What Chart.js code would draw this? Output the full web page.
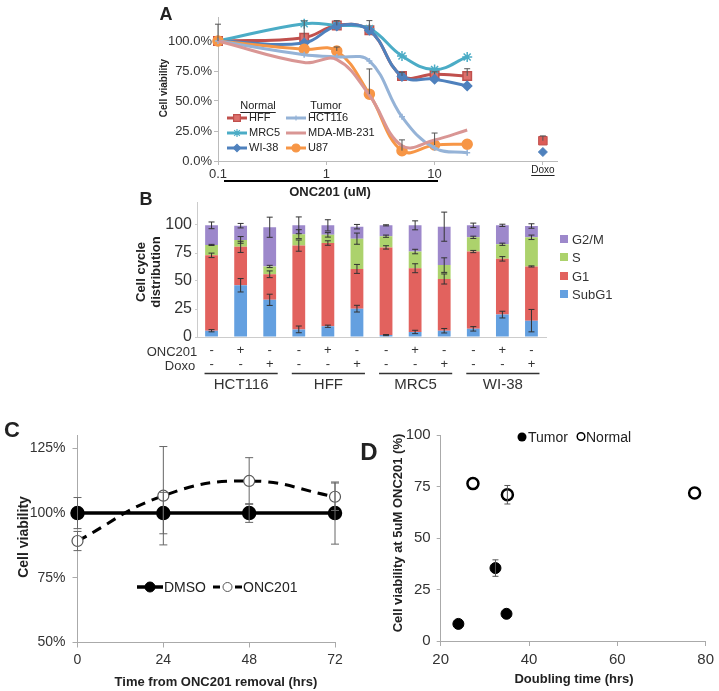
<!DOCTYPE html>
<html>
<head>
<meta charset="utf-8">
<script src="https://cdn.jsdelivr.net/npm/chart.js@4.4.0/dist/chart.umd.min.js"></script>
<style>
  body { margin: 0; background: #fff; }
  #page { position: relative; width: 719px; height: 691px; overflow: hidden;
          font-family: 'Liberation Sans', Arial, sans-serif; color: #222; }
  canvas { position: absolute; }
  .t { position: absolute; white-space: nowrap; transform: translate(-50%, -50%); }
  .r { transform: translate(-50%, -50%) rotate(-90deg); text-align: center; }
  .b { font-weight: bold; }
  .sw { position: absolute; width: 8px; height: 8px; }
</style>
</head>
<body>
<div id="page">
  <canvas id="chartA" width="430" height="200" style="left:140px;top:0px"></canvas>
  <canvas id="chartB" width="420" height="210" style="left:140px;top:190px"></canvas>
  <canvas id="chartC" width="360" height="271" style="left:0px;top:420px"></canvas>
  <canvas id="chartD" width="359" height="271" style="left:360px;top:420px"></canvas>

  <!-- panel A text -->
  <div class="t b" style="left:166px;top:14px;font-size:18px">A</div>
  <div class="t r b" style="left:163px;top:88px;font-size:10px">Cell viability</div>
  <div style="position:absolute;left:224px;top:180px;width:214px;height:2px;background:#000"></div>
  <div class="t b" style="left:330px;top:191px;font-size:13px">ONC201 (uM)</div>

  <!-- panel B text -->
  <div class="t b" style="left:146px;top:199px;font-size:18px">B</div>
  <div class="t r b" style="left:148px;top:272px;font-size:13px;line-height:15px">Cell cycle<br>distribution</div>
  <div class="t" style="left:172px;top:351px;font-size:13px;color:#333">ONC201</div>
  <div class="t" style="left:180px;top:365px;font-size:13px;color:#333">Doxo</div>
  <div class="sw" style="left:560px;top:235px;background:#9d88cb"></div>
  <div class="t" style="left:572px;top:239px;font-size:13px;color:#333;transform:translate(0,-50%)">G2/M</div>
  <div class="sw" style="left:560px;top:253px;background:#acd26c"></div>
  <div class="t" style="left:572px;top:257px;font-size:13px;color:#333;transform:translate(0,-50%)">S</div>
  <div class="sw" style="left:560px;top:272px;background:#e2625e"></div>
  <div class="t" style="left:572px;top:276px;font-size:13px;color:#333;transform:translate(0,-50%)">G1</div>
  <div class="sw" style="left:560px;top:290px;background:#64a0e0"></div>
  <div class="t" style="left:572px;top:294px;font-size:13px;color:#333;transform:translate(0,-50%)">SubG1</div>

  <!-- panel C text -->
  <div class="t b" style="left:12px;top:430px;font-size:22px">C</div>
  <div class="t r b" style="left:23px;top:537px;font-size:14px">Cell viability</div>
  <div class="t b" style="left:216px;top:681px;font-size:13px">Time from ONC201 removal (hrs)</div>

  <!-- panel D text -->
  <div class="t b" style="left:369px;top:452px;font-size:24px">D</div>
  <div class="t r b" style="left:397px;top:533px;font-size:13px">Cell viability at 5uM ONC201 (%)</div>
  <div class="t b" style="left:574px;top:678px;font-size:13px">Doubling time (hrs)</div>
</div>

<script>
// ---- panel A: viability vs ONC201 dose ----
const concA = [0.1, 0.625, 1.25, 2.5, 5, 10, 20];
const hff = [100, 102.8, 113, 109, 70.9, 72.3, 70.9];
const hffErr = [14, 14, 4, 8, 3, 2, 6];
const mrc5 = [100, 114.4, 113, 110.3, 87.5, 76.2, 86.7];
const wi38 = [100, 98.4, 112.5, 109, 70.5, 68.2, 62.6];
const hct116 = [100, 88.5, 86.7, 83.4, 36.8, 10.8, 6.9];
const mda231 = [100, 82, 84.5, 54.8, 12.7, 17.5, 25.8];
const u87 = [100, 93.1, 91.7, 55.7, 8.6, 13.3, 14];
const u87Err = [0, 0, 3.3, 21, 9, 10, 0];
const doxoConc = 100;
const hffDoxo = 16.9;
const hffDoxoErr = 4;
const wi38Doxo = 7.5;
const ticksA = [0.1, 1, 10, 100];

// ---- panel B: cell cycle distribution ----
const cellLines = ['HCT116', 'HFF', 'MRC5', 'WI-38'];
const oncRow = ['-', '+', '-', '-', '+', '-', '-', '+', '-', '-', '+', '-'];
const doxoRow = ['-', '-', '+', '-', '-', '+', '-', '-', '+', '-', '-', '+'];
const subG1 = [5.6, 46.2, 33.2, 6.8, 9.6, 25.3, 1.7, 4.5, 5.6, 7.3, 20, 14.6];
const g1 = [67.3, 34.3, 22.8, 74.8, 74.3, 35.5, 78.3, 56.9, 46.2, 69, 49.8, 48.4];
const sPhase = [9.3, 6.2, 7, 10.2, 7.3, 27, 10, 14.9, 12.4, 12.7, 13, 26];
const g2m = [17.5, 12.7, 35, 7.9, 8.5, 10.7, 9.7, 23.4, 34.3, 10.7, 16.9, 10.1];
const subG1Err = [1, 6, 5, 3, 1, 3, 0.5, 1.5, 2, 2, 3, 10];
const g1Err = [2, 5, 3, 5, 2, 4, 1.5, 4, 4.5, 1, 2, 0.5];
const sErr = [0.5, 3, 1, 4, 2, 5, 1, 2, 6.5, 1, 1, 2];
const g2mErr = [3, 2, 9, 7.5, 5, 2, 0.5, 4, 13, 2, 1, 2];

// ---- panel C: recovery after removal ----
const hoursC = [0, 24, 48, 72];
const dmso = [100, 100, 100, 100];
const dmsoErr = [6, 8, 3.6, 12];
const onc201 = [89.2, 106.7, 112.4, 106.3];
const onc201Err = [3.7, 19, 9, 5.3];

// ---- panel D: doubling time ----
const tumorDT = [24, 32.4, 34.9];
const tumorVia = [8.3, 35.4, 13.2];
const tumorErr = [0, 4, 0];
const normalDT = [27.3, 35.1, 77.5];
const normalVia = [76.4, 71, 71.8];
const normalErr = [0, 4.5, 0];

const FONT = "'Liberation Sans', Arial, sans-serif";
Chart.defaults.font.family = FONT;
Chart.defaults.color = '#333';
Chart.defaults.animation = false;

const pts = (xs, ys) => xs.map((x, i) => ({x: x, y: ys[i]}));

// error bars drawn from each point, size taken from the y scale
const errorBars = {
  id: 'errorBars',
  afterDatasetsDraw(chart) {
    const ctx = chart.ctx;
    chart.data.datasets.forEach((ds, di) => {
      if (!ds.errors) return;
      const meta = chart.getDatasetMeta(di);
      const ys = chart.scales[meta.yAxisID];
      ctx.save();
      ctx.strokeStyle = ds.errorColor || '#444';
      ctx.lineWidth = 1;
      meta.data.forEach((el, i) => {
        const e = ds.errors[i];
        if (!e) return;
        const d = Math.abs(ys.getPixelForValue(0) - ys.getPixelForValue(e));
        const cap = ds.errorCap || 3;
        const top = el.y - d;
        const bot = ds.errorPlusOnly ? el.y : el.y + d;
        ctx.beginPath();
        ctx.moveTo(el.x, top); ctx.lineTo(el.x, bot);
        ctx.moveTo(el.x - cap, top); ctx.lineTo(el.x + cap, top);
        if (!ds.errorPlusOnly) { ctx.moveTo(el.x - cap, bot); ctx.lineTo(el.x + cap, bot); }
        ctx.stroke();
      });
      ctx.restore();
    });
  }
};

function sample(ctx, x1, x2, y, color, width, dash, marker) {
  ctx.save();
  ctx.strokeStyle = color;
  ctx.lineWidth = width;
  ctx.setLineDash(dash || []);
  ctx.beginPath(); ctx.moveTo(x1, y); ctx.lineTo(x2, y); ctx.stroke();
  ctx.setLineDash([]);
  if (marker) {
    ctx.fillStyle = marker.fill;
    ctx.strokeStyle = marker.stroke;
    ctx.lineWidth = marker.borderWidth;
    Chart.helpers.drawPoint(ctx, {pointStyle: marker.style, radius: marker.radius, borderWidth: marker.borderWidth, rotation: 0}, (x1 + x2) / 2, y);
  }
  ctx.restore();
}

// ===== A =====
const styleA = {
  HFF: {color: '#c0504d', style: 'rect', radius: 6, fill: '#dc706c'},
  MRC5: {color: '#4bacc6', style: 'star', radius: 5, fill: '#4bacc6'},
  'WI-38': {color: '#4f81bd', style: 'rectRot', radius: 4.5, fill: '#4f81bd'},
  HCT116: {color: '#95b3d7', style: 'cross', radius: 3, fill: '#95b3d7'},
  'MDA-MB-231': {color: '#d99694', style: 'circle', radius: 0, fill: '#d99694'},
  U87: {color: '#f79646', style: 'circle', radius: 5, fill: '#f79646'}
};

function lineA(name, ys, errs) {
  const s = styleA[name];
  return {
    label: name, data: pts(concA, ys), clip: false,
    borderColor: s.color, borderWidth: 3, tension: 0.4,
    pointStyle: s.style, pointRadius: s.radius, pointBackgroundColor: s.fill,
    pointBorderColor: s.color, pointBorderWidth: 1.5,
    errors: errs, errorPlusOnly: true, errorColor: '#555', errorCap: 3
  };
}

const legendA = {
  id: 'legendA',
  afterDraw(chart) {
    const ctx = chart.ctx;
    ctx.save();
    ctx.font = '11px ' + FONT;
    ctx.fillStyle = '#222';
    ctx.textBaseline = 'middle';
    ctx.textAlign = 'center';
    [['Normal', 118], ['Tumor', 186]].forEach(([txt, cx]) => {
      ctx.fillText(txt, cx, 106);
      const w = ctx.measureText(txt).width;
      ctx.fillRect(cx - w / 2, 112, w, 1);
    });
    ctx.textAlign = 'left';
    const cols = [[['HFF', 'MRC5', 'WI-38'], 87], [['HCT116', 'MDA-MB-231', 'U87'], 146]];
    cols.forEach(([names, x0]) => {
      names.forEach((n, r) => {
        const s = styleA[n];
        const y = 118 + r * 15;
        sample(ctx, x0, x0 + 20, y, s.color, 3, null,
          s.radius ? {style: s.style, radius: s.radius * 0.8, fill: s.fill, stroke: s.color, borderWidth: 1.2} : null);
        ctx.fillStyle = '#222';
        ctx.fillText(n, x0 + 22, y);
      });
    });
    // Doxo label under its own tick
    const xs = chart.scales.x;
    const dx = xs.getPixelForValue(doxoConc);
    ctx.font = '10px ' + FONT;
    ctx.textAlign = 'center';
    ctx.fillText('Doxo', dx, 170);
    const w = ctx.measureText('Doxo').width;
    ctx.fillRect(dx - w / 2, 175, w, 1);
    ctx.restore();
  }
};

new Chart(document.getElementById('chartA'), {
  type: 'line',
  data: {
    datasets: [
      lineA('MDA-MB-231', mda231),
      lineA('HCT116', hct116),
      lineA('U87', u87, u87Err),
      lineA('WI-38', wi38),
      lineA('MRC5', mrc5),
      lineA('HFF', hff, hffErr),
      {label: 'HFF Doxo', data: [{x: doxoConc, y: hffDoxo}], showLine: false, clip: false,
       pointStyle: 'rect', pointRadius: 6, pointBackgroundColor: '#dc5c57', pointBorderColor: '#c0504d',
       errors: [hffDoxoErr], errorPlusOnly: true, errorColor: '#555', errorCap: 3},
      {label: 'WI-38 Doxo', data: [{x: doxoConc, y: wi38Doxo}], showLine: false, clip: false,
       pointStyle: 'rectRot', pointRadius: 4.5, pointBackgroundColor: '#4f81bd', pointBorderColor: '#4f81bd'}
    ]
  },
  options: {
    responsive: false,
    layout: {padding: {left: 0, right: 13, top: 17, bottom: 14}},
    plugins: {legend: {display: false}, tooltip: {enabled: false}},
    scales: {
      x: {
        type: 'logarithmic', min: 0.1, max: 135,
        afterBuildTicks: s => { s.ticks = ticksA.map(v => ({value: v})); },
        afterFit: s => { s.height = 25; },
        ticks: {font: {size: 13}, padding: 2, color: '#333',
                callback: v => v === doxoConc ? '' : String(v)},
        grid: {drawOnChartArea: false, tickLength: 4, color: '#bbb'},
        border: {color: '#bbb'}
      },
      y: {
        min: 0, max: 120,
        afterBuildTicks: s => { s.ticks = [0, 25, 50, 75, 100].map(v => ({value: v})); },
        afterFit: s => { s.width = 78; },
        ticks: {font: {size: 13}, padding: 2, color: '#333', callback: v => v.toFixed(1) + '%'},
        grid: {drawOnChartArea: false, tickLength: 4, color: '#bbb'},
        border: {color: '#bbb'}
      }
    }
  },
  plugins: [errorBars, legendA]
});

// ===== B =====
const groupsB = {
  id: 'groupsB',
  afterDraw(chart) {
    const ctx = chart.ctx;
    const xs = chart.scales.x;
    ctx.save();
    ctx.fillStyle = '#333';
    ctx.strokeStyle = '#333';
    ctx.lineWidth = 1.5;
    ctx.font = '15px ' + FONT;
    ctx.textAlign = 'center';
    ctx.textBaseline = 'middle';
    cellLines.forEach((name, g) => {
      const x1 = xs.getPixelForValue(g * 3) - 7;
      const x2 = xs.getPixelForValue(g * 3 + 2) + 8;
      ctx.beginPath(); ctx.moveTo(x1, 183.5); ctx.lineTo(x2, 183.5); ctx.stroke();
      ctx.fillText(name, (x1 + x2) / 2, 195);
    });
    ctx.restore();
  }
};

function barB(label, vals, errs, color) {
  return {label: label, data: vals, backgroundColor: color, errors: errs, errorColor: '#333', errorCap: 3,
          barPercentage: 0.44, categoryPercentage: 1};
}

new Chart(document.getElementById('chartB'), {
  type: 'bar',
  data: {
    labels: oncRow.map((_, i) => 'c' + i),
    datasets: [
      barB('SubG1', subG1, subG1Err, '#64a0e0'),
      barB('G1', g1, g1Err, '#e2625e'),
      barB('S', sPhase, sErr, '#acd26c'),
      barB('G2/M', g2m, g2mErr, '#9d88cb')
    ]
  },
  options: {
    responsive: false,
    layout: {padding: {left: 0, right: 14, top: 5, bottom: 0}},
    plugins: {legend: {display: false}, tooltip: {enabled: false}},
    scales: {
      x: {
        stacked: true,
        afterFit: s => { s.height = 63; },
        ticks: {font: {size: 13, lineHeight: 1.1}, padding: 6, color: '#333', autoSkip: false, maxRotation: 0,
                callback: (v, i) => [oncRow[i], doxoRow[i]]},
        grid: {drawOnChartArea: false, drawTicks: false, color: '#ccc'},
        border: {color: '#ccc'}
      },
      y: {
        stacked: true, min: 0, max: 120,
        afterBuildTicks: s => { s.ticks = [0, 25, 50, 75, 100].map(v => ({value: v})); },
        afterFit: s => { s.width = 57; },
        ticks: {font: {size: 16}, padding: 3, color: '#333'},
        grid: {drawOnChartArea: false, tickLength: 2, color: '#ccc'},
        border: {color: '#ccc'}
      }
    }
  },
  plugins: [errorBars, groupsB]
});

// ===== C =====
const legendC = {
  id: 'legendC',
  afterDraw(chart) {
    const ctx = chart.ctx;
    sample(ctx, 137, 163, 167, '#000', 3.5, null, {style: 'circle', radius: 5, fill: '#000', stroke: '#000', borderWidth: 1});
    sample(ctx, 213, 242, 167, '#000', 3, [7, 4], {style: 'circle', radius: 4.5, fill: '#fff', stroke: '#555', borderWidth: 1});
    ctx.save();
    ctx.font = '14px ' + FONT;
    ctx.fillStyle = '#222';
    ctx.textBaseline = 'middle';
    ctx.fillText('DMSO', 164, 168);
    ctx.fillText('ONC201', 243, 168);
    ctx.restore();
  }
};

new Chart(document.getElementById('chartC'), {
  type: 'line',
  data: {
    datasets: [
      {label: 'DMSO', data: pts(hoursC, dmso), clip: false, borderColor: '#000', borderWidth: 3.5, tension: 0,
       pointRadius: 5.5, pointBackgroundColor: '#000', pointBorderColor: '#000',
       errors: dmsoErr, errorColor: '#666', errorCap: 4},
      {label: 'ONC201', data: pts(hoursC, onc201), clip: false, borderColor: '#000', borderWidth: 3, borderDash: [10, 7],
       tension: 0.45, pointRadius: 5.5, pointBackgroundColor: '#fff', pointBorderColor: '#555', pointBorderWidth: 1.2,
       errors: onc201Err, errorColor: '#666', errorCap: 4}
    ]
  },
  options: {
    responsive: false,
    layout: {padding: {left: 0, right: 25, top: 12.5, bottom: 0}},
    plugins: {legend: {display: false}, tooltip: {enabled: false}},
    scales: {
      x: {
        type: 'linear', min: 0, max: 72,
        afterFit: s => { s.height = 48.5; },
        ticks: {stepSize: 24, font: {size: 14}, padding: 4, color: '#333'},
        grid: {drawOnChartArea: false, tickLength: 5, color: '#aaa'},
        border: {color: '#aaa'}
      },
      y: {
        min: 50, max: 130,
        afterBuildTicks: s => { s.ticks = [50, 75, 100, 125].map(v => ({value: v})); },
        afterFit: s => { s.width = 77.5; },
        ticks: {font: {size: 14}, padding: 7, color: '#333', callback: v => v + '%'},
        grid: {drawOnChartArea: false, tickLength: 5, color: '#aaa'},
        border: {color: '#aaa'}
      }
    }
  },
  plugins: [errorBars, legendC]
});

// ===== D =====
const legendD = {
  id: 'legendD',
  afterDraw(chart) {
    const ctx = chart.ctx;
    ctx.save();
    ctx.fillStyle = '#000';
    ctx.beginPath(); ctx.arc(162, 17, 4.5, 0, Math.PI * 2); ctx.fill();
    ctx.strokeStyle = '#000'; ctx.lineWidth = 1.5;
    ctx.beginPath(); ctx.arc(221, 16.5, 3.8, 0, Math.PI * 2); ctx.stroke();
    ctx.font = '14px ' + FONT;
    ctx.fillStyle = '#222';
    ctx.textBaseline = 'middle';
    ctx.fillText('Tumor', 168, 18.5);
    ctx.fillText('Normal', 226, 18.5);
    ctx.restore();
  }
};

new Chart(document.getElementById('chartD'), {
  type: 'scatter',
  data: {
    datasets: [
      {label: 'Tumor', data: pts(tumorDT, tumorVia), pointRadius: 5.5, pointBackgroundColor: '#000', pointBorderColor: '#000',
       errors: tumorErr, errorColor: '#555', errorCap: 3},
      {label: 'Normal', data: pts(normalDT, normalVia), pointRadius: 5.5, pointBackgroundColor: '#fff', pointBorderColor: '#000',
       pointBorderWidth: 2.5, errors: normalErr, errorColor: '#555', errorCap: 3}
    ]
  },
  options: {
    responsive: false,
    layout: {padding: {left: 0, right: 10.3, top: 11.7, bottom: 0}},
    plugins: {legend: {display: false}, tooltip: {enabled: false}},
    scales: {
      x: {
        min: 20, max: 80,
        afterFit: s => { s.height = 50; },
        ticks: {stepSize: 20, font: {size: 15}, padding: 5, color: '#333'},
        grid: {drawOnChartArea: false, tickLength: 5, color: '#aaa'},
        border: {color: '#aaa'}
      },
      y: {
        min: 0, max: 100,
        afterFit: s => { s.width = 80.7; },
        ticks: {stepSize: 25, font: {size: 15}, padding: 6, color: '#333'},
        grid: {drawOnChartArea: false, tickLength: 4, color: '#aaa'},
        border: {color: '#aaa'}
      }
    }
  },
  plugins: [errorBars, legendD]
});
</script>
</body>
</html>
